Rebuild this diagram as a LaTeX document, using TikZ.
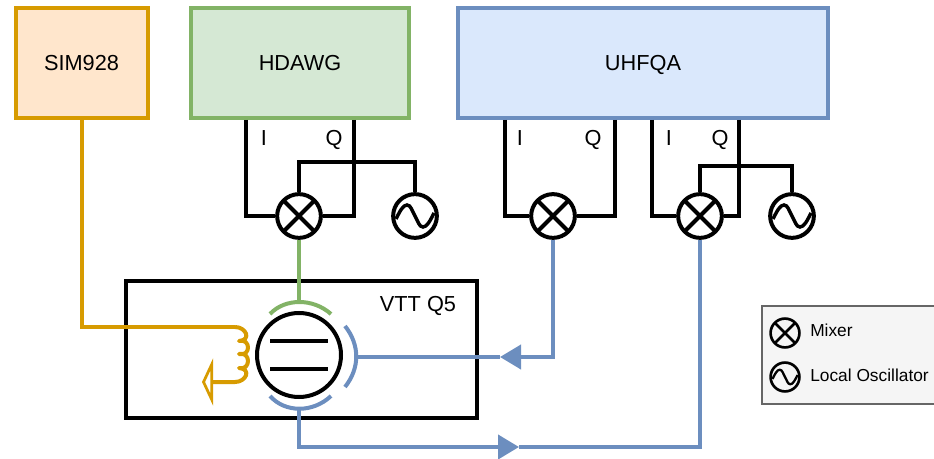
\documentclass[tikz,border=0pt]{standalone}
\usepackage{fontspec}
\setmainfont{Liberation Sans}
\usetikzlibrary{arrows.meta}

\definecolor{orangeline}{HTML}{D79B00}
\definecolor{orangefill}{HTML}{FFE6CC}
\definecolor{greenline}{HTML}{82B366}
\definecolor{greenfill}{HTML}{D5E8D4}
\definecolor{blueline}{HTML}{6C8EBF}
\definecolor{bluefill}{HTML}{DAE8FC}
\definecolor{legendline}{HTML}{666666}
\definecolor{legendfill}{HTML}{F5F5F5}

% Sine inside an oscillator node: node name, scale
\newcommand{\sinewave}[2]{
    \draw[line width=#2*2.6pt, shift={(#1)}, x=#2*0.75pt, y=-#2*0.75pt]
        (-19,3) .. controls (-15,-5) and (-12,-11) .. (-8,-11) .. controls (-4,-11) and (-3,-5) .. (0,0)
        .. controls (3,5) and (4,11) .. (8,11) .. controls (12,11) and (15,5) .. (19,-3);
}

\begin{document}
\begin{tikzpicture}[
            x=0.75pt, y=-0.75pt,
            every node/.style={font=\fontsize{16.3}{19}\selectfont, inner sep=0pt, text height=11.7pt, text depth=0pt},
            instrument/.style={draw, line width=3pt, minimum height=82.5pt}, % Instrument boxes
            wire/.style={line width=3pt},
            mixer/.style={circle, draw, line width=#1*3pt, minimum size=#1*32.8pt,
                path picture={
                    \draw[line width=#1*3pt] (path picture bounding box.north west) -- (path picture bounding box.south east);
                    \draw[line width=#1*3pt] (path picture bounding box.south west) -- (path picture bounding box.north east);
                }},
            mixer/.default=1,
            localosc/.style={circle, draw, line width=#1*3pt, minimum size=#1*32.8pt},
            localosc/.default=1,
            bigtip/.tip={Triangle[length=15.75pt, width=18pt]},
            opentip/.tip={Triangle[open, fill=white, length=8.25pt, width=35pt]}
            ]
    \useasboundingbox (0,0) rectangle (934,459);

    % Instruments
    \node[instrument, draw=orangeline, fill=orangefill, minimum width=99pt] (sim) at (81.5,63) {SIM928};
    \node[instrument, draw=greenline, fill=greenfill, minimum width=163.5pt] (hdawg) at (300,63) {HDAWG};
    \node[instrument, draw=blueline, fill=bluefill, minimum width=277.5pt] (uhfqa) at (643,63) {UHFQA};

    % Sample box and qubit
    \node[draw, line width=3pt, minimum width=263pt, minimum height=103pt] (vtt) at (301.5,349.5) {};
    \node (vttlabel) at (418,304) {VTT Q5};
    \node[circle, draw, line width=3pt, minimum size=63pt] (qubit) at (299,355) {};
    \coordinate (readT) at (299,302);
    \coordinate (readR) at (357,357);
    \coordinate (readB) at (299,409);
    \draw[wire] (270,341) -- (328,341);
    \draw[wire] (270,369) -- (328,369);
    \draw[wire, greenline] (270,314) .. controls (285,298) and (313,298) .. (331,314);
    \draw[wire, blueline] (345,326) .. controls (360,345) and (360,368) .. (345,387);
    \draw[wire, blueline] (270,396) .. controls (285,413) and (313,413) .. (331,396);

    % Mixers and oscillators
    \node[mixer] (mixA) at (299,216) {};
    \node[localosc] (loA) at (415,216) {};
    \node[mixer] (mixB) at (553,216) {};
    \node[mixer] (mixC) at (700,216) {};
    \node[localosc] (loC) at (792,216) {};
    \sinewave{loA}{1}
    \sinewave{loC}{1}

    % I and Q outputs
    \coordinate (iA) at (246,119);
    \coordinate (qA) at (354,119);
    \coordinate (iB) at (505,119);
    \coordinate (qB) at (615,119);
    \coordinate (iC) at (652,119);
    \coordinate (qC) at (739,119);
    \coordinate (junA) at (354,162);
    \coordinate (junC) at (739,166);
    \draw[wire] (hdawg.south -| iA) |- (mixA.west);
    \draw[wire] (hdawg.south -| qA) |- (mixA.east);
    \draw[wire] (uhfqa.south -| iB) |- (mixB.west);
    \draw[wire] (uhfqa.south -| qB) |- (mixB.east);
    \draw[wire] (uhfqa.south -| iC) |- (mixC.west);
    \draw[wire] (uhfqa.south -| qC) |- (mixC.east);
    \draw[wire] (mixA.north) |- (junA) -| (loA.north);
    \draw[wire] (mixC.north) |- (junC) -| (loC.north);
    \node (labIA) at (264,138) {I};
    \node (labQA) at (334,138) {Q};
    \node (labIB) at (520,138) {I};
    \node (labQB) at (593,138) {Q};
    \node (labIC) at (669,138) {I};
    \node (labQC) at (720,138) {Q};

    % Signal lines to the qubit
    \coordinate (tipB) at (500,357);
    \coordinate (tipC) at (519,447);
    \draw[wire, greenline] (mixA.south) -- (readT);
    \draw[wire, blueline, -bigtip] (mixB.south) |- (tipB);
    \draw[wire, blueline] (tipB) -- (readR);
    \draw[wire, blueline, -bigtip] (readB) |- (tipC);
    \draw[wire, blueline] (tipC) -| (mixC.south);

    % Flux line and coil
    \coordinate (coilS) at (235,327);
    \coordinate (groundtip) at (202,382);
    \draw[wire, orangeline] (sim.south) |- (coilS);
    \draw[wire, orangeline, line join=round, -opentip] (coilS) .. controls (246,327) and (252,340) .. (239,341)
        .. controls (251,338) and (251,357) .. (239,354)
        .. controls (251,351) and (251,371) .. (239,368)
        .. controls (252,369) and (246,382) .. (235,382) -- (groundtip);

    % Legend
    \node[draw=legendline, fill=legendfill, line width=1.5pt, anchor=north west, minimum width=140pt, minimum height=73.5pt] (legend) at (761,305) {};
    \node[mixer=0.66] (legmix) at (785,333) {};
    \node[localosc=0.66] (legosc) at (785,377) {};
    \sinewave{legosc}{0.66}
    \node[anchor=west, font=\fontsize{13}{16}\selectfont, text height=9.3pt] (legmixlabel) at (810,330) {Mixer};
    \node[anchor=west, font=\fontsize{13}{16}\selectfont, text height=9.3pt] (legosclabel) at (810,375) {Local Oscillator};
\end{tikzpicture}
\end{document}
